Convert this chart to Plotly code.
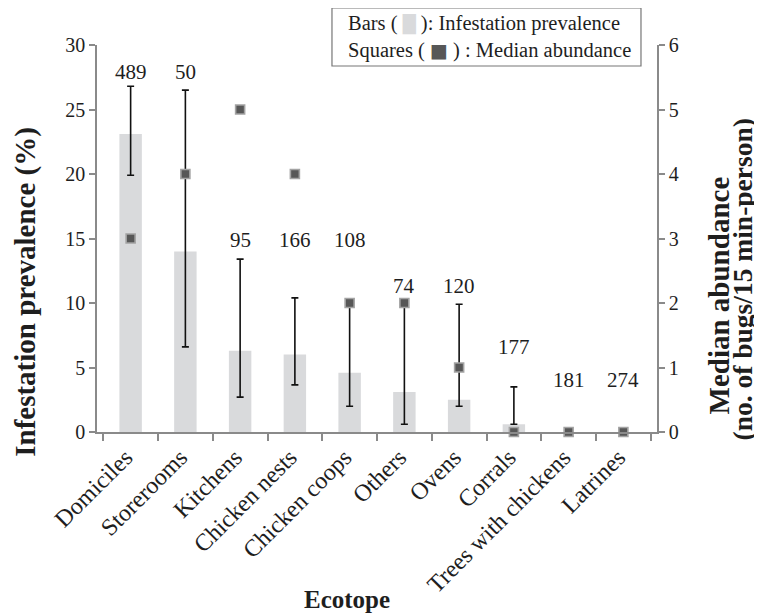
import plotly.graph_objects as go

categories = ["Domiciles", "Storerooms", "Kitchens", "Chicken nests", "Chicken coops",
              "Others", "Ovens", "Corrals", "Trees with chickens", "Latrines"]
prevalence = [23.1, 14.0, 6.3, 6.0, 4.6, 3.1, 2.5, 0.6, 0.0, 0.0]
ci_upper = [26.8, 26.5, 13.4, 10.4, 10.0, 10.0, 9.9, 3.5, None, None]
ci_lower = [19.9, 6.6, 2.7, 3.65, 2.0, 0.6, 2.0, 0.6, None, None]
median_abundance = [3, 4, 5, 4, 2, 2, 1, 0, 0, 0]
n_sites = [489, 50, 95, 166, 108, 74, 120, 177, 181, 274]
n_label_y = [27.9, 27.9, 14.9, 14.9, 14.9, 11.3, 11.3, 6.6, 4.0, 4.0]

err_plus = [None if u is None else u - v for u, v in zip(ci_upper, prevalence)]
err_minus = [None if l is None else v - l for l, v in zip(ci_lower, prevalence)]

FONT = "Liberation Serif"
AX = "#8a8a8a"
TXT = "#1e1e1e"
BAR = "#d9dadc"

fig = go.Figure()
fig.add_trace(go.Bar(
    x=categories, y=prevalence, width=0.41,
    marker=dict(color=BAR, line=dict(width=0)),
    error_y=dict(type="data", symmetric=False, array=err_plus, arrayminus=err_minus,
                 color="#111111", thickness=1.6, width=3.5),
    showlegend=False, cliponaxis=False,
))
fig.add_trace(go.Scatter(
    x=categories, y=median_abundance, yaxis="y2", mode="markers",
    marker=dict(symbol="square", size=9, color="#575757",
                line=dict(color="#a3a3a3", width=1.6)),
    showlegend=False, cliponaxis=False,
))

for c, n, y in zip(categories, n_sites, n_label_y):
    fig.add_annotation(x=c, y=y, xref="x", yref="y", text=str(n), showarrow=False,
                       xanchor="center", yanchor="middle",
                       font=dict(family=FONT, size=21, color=TXT))

# legend box
fig.add_shape(type="rect", xref="paper", yref="paper",
              x0=0.4196, x1=0.9714, y0=0.9457, y1=1.0956,
              line=dict(color="#777777", width=1.2), fillcolor="white")
fig.add_annotation(
    xref="paper", yref="paper", x=0.4446, y=1.0207, xanchor="left", yanchor="middle",
    text=(f"Bars ( <span style='color:{BAR};font-family:DejaVu Sans;font-size:17px'>█</span> ): Infestation prevalence<br>"
          "Squares ( <span style='color:#575757;font-family:DejaVu Sans;font-size:19px'>■</span> ) : Median abundance"),
    align="left", showarrow=False,
    font=dict(family=FONT, size=20.5, color=TXT),
)

fig.add_annotation(xref="paper", yref="paper", x=-0.127, y=0.362, textangle=-90,
                   xanchor="center", yanchor="middle",
                   text="<b>Infestation prevalence (%)</b>", showarrow=False,
                   font=dict(family=FONT, size=29, color=TXT))
fig.add_annotation(xref="paper", yref="paper", x=1.1115, y=0.354, textangle=-90,
                   xanchor="center", yanchor="middle",
                   text="<b>Median abundance</b>", showarrow=False,
                   font=dict(family=FONT, size=29, color=TXT))
fig.add_annotation(xref="paper", yref="paper", x=1.1535, y=0.394, textangle=-90,
                   xanchor="center", yanchor="middle",
                   text="<b>(no. of bugs/15 min-person)</b>", showarrow=False,
                   font=dict(family=FONT, size=27.5, color=TXT))
fig.add_annotation(xref="paper", yref="paper", x=0.446, y=-0.434,
                   xanchor="center", yanchor="middle",
                   text="<b>Ecotope</b>", showarrow=False,
                   font=dict(family=FONT, size=25, color=TXT))

fig.update_layout(
    width=754, height=605,
    margin=dict(l=89, r=105, t=37, b=181),
    paper_bgcolor="white", plot_bgcolor="white",
    font=dict(family=FONT, size=20, color=TXT),
    xaxis=dict(showline=True, linecolor=AX, linewidth=1.5, ticks="outside",
               tickson="boundaries", ticklen=7, tickcolor=AX, tickwidth=1.5,
               tickangle=-45, tickfont=dict(family=FONT, size=24, color=TXT),
               ticklabelshift=-5,
               showgrid=False, zeroline=False),
    yaxis=dict(range=[0, 30], tickvals=[0, 5, 10, 15, 20, 25, 30], showline=True,
               linecolor=AX, linewidth=1.5, ticks="outside", ticklen=6, tickcolor=AX,
               tickwidth=1.5, showgrid=False, zeroline=False,
               tickfont=dict(family=FONT, size=20, color=TXT)),
    yaxis2=dict(range=[0, 6], tickvals=[0, 1, 2, 3, 4, 5, 6], overlaying="y", side="right",
                showline=True, linecolor=AX, linewidth=1.5, ticks="outside", ticklen=6,
                tickcolor=AX, tickwidth=1.5, showgrid=False, zeroline=False,
                tickfont=dict(family=FONT, size=20, color=TXT)),
)

fig.write_html("out.html")
